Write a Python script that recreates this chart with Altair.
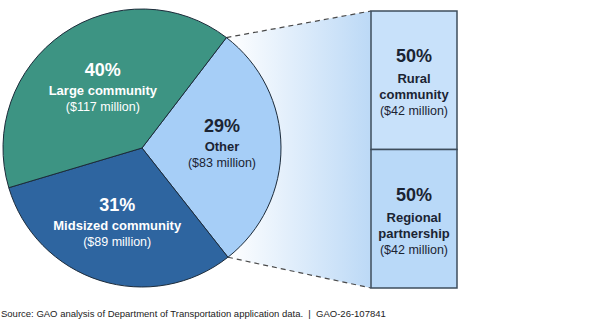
import math
import altair as alt
import pandas as pd

# ---------------- data ----------------
pie_cats = ["Other", "Midsized community", "Large community"]
pie_pcts = [29, 31, 40]
pie_amounts = ["($83 million)", "($89 million)", "($117 million)"]

box_cats = ["Rural\ncommunity", "Regional\npartnership"]
box_pcts = [50, 50]
box_amounts = ["($42 million)", "($42 million)"]

source_note = ("Source: GAO analysis of Department of Transportation application data."
               "\u00a0\u00a0|\u00a0\u00a0GAO-26-107841")

# ---------------- layout ----------------
W, H = 600, 329
CX, CY, R = 142, 148, 139
START = math.radians(37.4)
BOX_X0, BOX_X1 = 371, 457
BOX_Y0, BOX_Y1 = 11, 288
FONT = "Liberation Sans"
DARK = "#1b2433"

pie_df = pd.DataFrame({
    "cat": pie_cats,
    "pct": pie_pcts,
    "amount": pie_amounts,
    "k": list(range(len(pie_cats))),
})
pie_df["pct_label"] = [f"{p}%" for p in pie_pcts]

box_df = pd.DataFrame({
    "cat": box_cats,
    "pct": box_pcts,
    "amount": box_amounts,
    "k": list(range(len(box_cats))),
})
box_df["pct_label"] = [f"{p}%" for p in box_pcts]

# connector geometry derived from the pie's first slice boundaries
other_share = pie_pcts[0] / sum(pie_pcts)
a0 = START
a1 = START + other_share * 2 * math.pi
p0 = (CX + R * math.sin(a0), CY - R * math.cos(a0))
p1 = (CX + R * math.sin(a1), CY - R * math.cos(a1))

area_df = pd.DataFrame({
    "x": [p0[0], BOX_X0],
    "y": [p0[1], BOX_Y0],
    "y2": [p1[1], BOX_Y1],
})
rule_df = pd.DataFrame({
    "x": [p0[0], p1[0]],
    "y": [p0[1], p1[1]],
    "x2": [BOX_X0, BOX_X0],
    "y2": [BOX_Y0, BOX_Y1],
})

theta_scale = alt.Scale(domain=[0, sum(pie_pcts)],
                        range=[START, START + 2 * math.pi])

gradient = alt.Chart(area_df).mark_area(
    fill=alt.Gradient(
        gradient="linear",
        stops=[alt.GradientStop(color="#ffffff", offset=0),
               alt.GradientStop(color="#bcd9f6", offset=1)],
        x1=0, x2=1, y1=0, y2=0,
    ),
    strokeWidth=0,
).encode(
    x=alt.X("x:Q", scale=None, axis=None),
    y=alt.Y("y:Q", scale=None, axis=None),
    y2="y2:Q",
)

rules = alt.Chart(rule_df).mark_rule(
    color="#4a4a4a", strokeDash=[5, 4], strokeWidth=1.2
).encode(
    x=alt.X("x:Q", scale=None, axis=None),
    y=alt.Y("y:Q", scale=None, axis=None),
    x2="x2:Q",
    y2="y2:Q",
)

arcs = alt.Chart(pie_df).mark_arc(
    outerRadius=R, stroke="#1c2b3a", strokeWidth=1
).encode(
    theta=alt.Theta("pct:Q", stack=True, scale=theta_scale),
    order=alt.Order("k:Q"),
    fill=alt.Fill("cat:N", legend=None,
                  scale=alt.Scale(domain=pie_cats,
                                  range=["#a6cef7", "#2e65a0", "#3d9483"])),
    x=alt.value(CX),
    y=alt.value(CY),
)

pie_text_base = alt.Chart(pie_df).transform_window(
    cum="sum(pct)", sort=[alt.SortField("k")], frame=[None, 0]
).transform_calculate(
    mid="datum.cum - datum.pct / 2",
    lr="datum.cat == 'Large community' ? 69 : (datum.cat == 'Other' ? 80 : 82)",
).encode(
    theta=alt.Theta("mid:Q", stack=None, scale=theta_scale),
    radius=alt.Radius("lr:Q", scale=None),
    x=alt.value(CX),
    y=alt.value(CY),
    color=alt.condition(alt.datum.cat == "Other", alt.value(DARK), alt.value("#ffffff")),
)

pie_pct = pie_text_base.mark_text(
    font=FONT, fontSize=18, fontWeight="bold", dy=-20, baseline="middle"
).encode(text="pct_label:N")
pie_name = pie_text_base.mark_text(
    font=FONT, fontSize=13, fontWeight="bold", dy=0, baseline="middle"
).encode(text="cat:N")
pie_amt = pie_text_base.mark_text(
    font=FONT, fontSize=12.5, dy=16, baseline="middle"
).encode(text="amount:N")

box_scale = alt.Scale(domain=[0, sum(box_pcts)], range=[BOX_Y0, BOX_Y1])

box_base = alt.Chart(box_df).transform_window(
    cum="sum(pct)", sort=[alt.SortField("k")], frame=[None, 0]
).transform_calculate(
    start="datum.cum - datum.pct",
    mid="datum.cum - datum.pct / 2",
)

bars = box_base.mark_rect(
    stroke="#3e4d5c", strokeWidth=1.5
).encode(
    x=alt.value(BOX_X0),
    x2=alt.value(BOX_X1),
    y=alt.Y("start:Q", scale=box_scale, axis=None),
    y2="cum:Q",
    fill=alt.condition(alt.datum.k == 0, alt.value("#c8e1fa"), alt.value("#b9d9f8")),
)

box_text_base = box_base.encode(
    x=alt.value((BOX_X0 + BOX_X1) / 2),
    y=alt.Y("mid:Q", scale=box_scale, axis=None),
)

box_pct = box_text_base.mark_text(
    font=FONT, fontSize=18, fontWeight="bold", dy=-23, color=DARK, baseline="middle"
).encode(text="pct_label:N")
box_name = box_text_base.mark_text(
    font=FONT, fontSize=13, fontWeight="bold", dy=-1, color=DARK, baseline="middle",
    lineBreak="\n", lineHeight=16
).encode(text="cat:N")
box_amt = box_text_base.mark_text(
    font=FONT, fontSize=12.5, dy=31, color=DARK, baseline="middle"
).encode(text="amount:N")

source = alt.Chart(pd.DataFrame({"t": [source_note]})).mark_text(
    font=FONT, fontSize=9.5, align="left", baseline="middle", color="#222222"
).encode(
    x=alt.value(1),
    y=alt.value(314),
    text="t:N",
)

chart = alt.layer(
    gradient, rules, arcs, pie_pct, pie_name, pie_amt,
    bars, box_pct, box_name, box_amt, source
).resolve_scale(
    x="independent", y="independent"
).properties(
    width=W, height=H,
    autosize=alt.AutoSizeParams(type="none"),
    padding=0,
    background="#ffffff",
).configure_view(stroke=None)

chart.save("out.html", embed_options={"renderer": "svg", "actions": False})
